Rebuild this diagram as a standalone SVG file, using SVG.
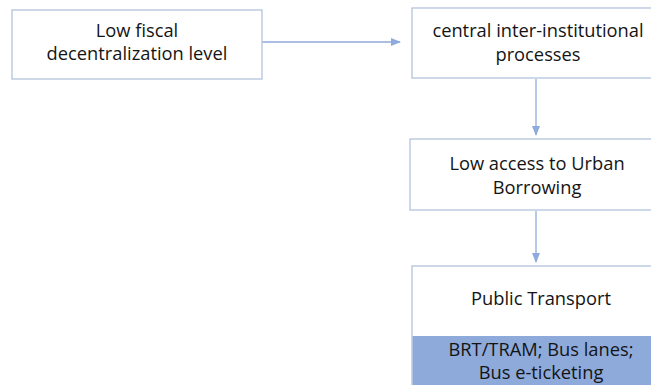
<svg xmlns="http://www.w3.org/2000/svg" width="651" height="385" viewBox="0 0 651 385">
<style>
.box{fill:#fff;stroke:#b3c3dc;stroke-width:1.3}
.t{font-family:"Open Sans","Noto Sans",sans-serif;font-size:18.3px;fill:#141414;text-anchor:middle}
.c{stroke:#8faadc;stroke-width:1.3;fill:none}
</style>
<defs>
<marker id="ah" markerWidth="10" markerHeight="8" refX="9" refY="4" orient="auto" markerUnits="userSpaceOnUse">
<path d="M0,0 L10,4 L0,8 Z" fill="#8faadc"/>
</marker>
</defs>
<rect width="651" height="385" fill="#fff"/>
<g id="connectors">
<path class="c" d="M262,42 H400" marker-end="url(#ah)"/>
<path class="c" d="M536,79 V135" marker-end="url(#ah)"/>
<path class="c" d="M536,211 V262" marker-end="url(#ah)"/>
</g>
<g id="n1">
<rect class="box" x="12" y="10" width="250" height="69"/>
<text class="t" x="137" y="37">Low fiscal</text>
<text class="t" x="137" y="60">decentralization level</text>
</g>
<g id="n2">
<rect class="box" x="412" y="8" width="252" height="70"/>
<text class="t" x="538" y="37">central inter-institutional</text>
<text class="t" x="538" y="61">processes</text>
</g>
<g id="n3">
<rect class="box" x="410" y="139" width="254" height="71"/>
<text class="t" x="537" y="170">Low access to Urban</text>
<text class="t" x="537" y="194">Borrowing</text>
</g>
<g id="n4">
<rect class="box" x="412" y="266" width="252" height="130"/>
<rect x="412.6" y="336" width="251" height="60" fill="#8eaadb"/>
<text class="t" x="541" y="305">Public Transport</text>
<text class="t" x="541" y="356">BRT/TRAM; Bus lanes;</text>
<text class="t" x="541" y="379">Bus e-ticketing</text>
</g>
</svg>
